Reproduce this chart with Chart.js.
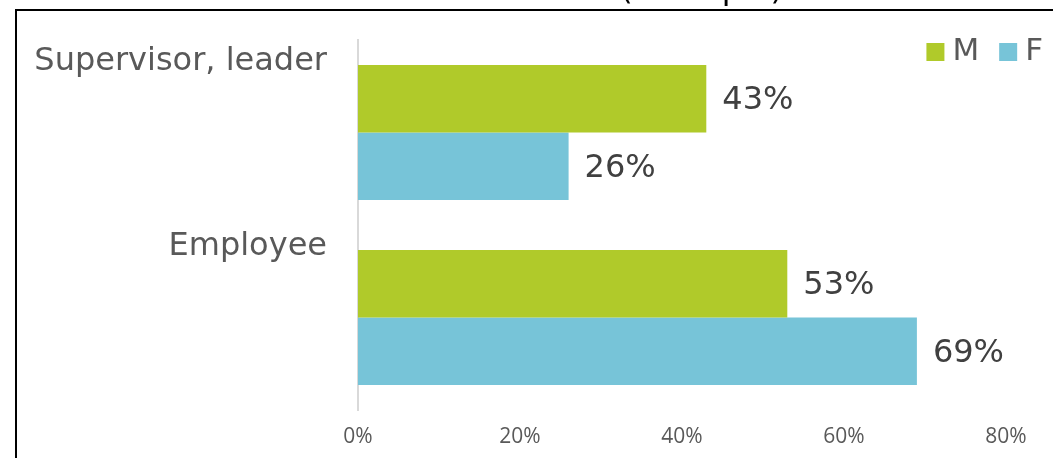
<!DOCTYPE html>
<html>
<head>
<meta charset="utf-8">
<script src="https://cdn.jsdelivr.net/npm/chart.js@4.4.1/dist/chart.umd.min.js"></script>
<style>
  html, body { margin: 0; padding: 0; background: #ffffff; }
  #wrap { position: relative; width: 1053px; height: 458px; }
</style>
</head>
<body>
<div id="wrap"><canvas id="positionChart" width="1053" height="458"></canvas></div>
<script>
const categories = ["Supervisor, leader", "Employee"];
const seriesNames = ["M", "F"];
const maleValues = [43, 53];
const femaleValues = [26, 69];
const tickValues = [0, 20, 40, 60, 80];
const chartTitle = "Position (example)";

const colors = { M: '#b0ca2a', F: '#77c4d8' };
const bigFont = "'DejaVu Sans', Verdana, sans-serif";

// frame + clipped title above it
const framePlugin = {
    id: 'frame',
    beforeDraw(chart) {
        const ctx = chart.ctx;
        ctx.save();
        ctx.fillStyle = '#000000';
        ctx.fillRect(15, 9, 2, chart.height);
        ctx.fillRect(15, 9, chart.width, 2);
        ctx.font = "32px " + bigFont;
        ctx.textAlign = 'right';
        ctx.textBaseline = 'alphabetic';
        ctx.fillText(chartTitle, 783, -1);
        ctx.restore();
    }
};

// percent labels at the end of each bar
const valueLabels = {
    id: 'valueLabels',
    afterDatasetsDraw(chart) {
        const ctx = chart.ctx;
        ctx.save();
        ctx.font = "32px " + bigFont;
        ctx.fillStyle = '#404040';
        ctx.textAlign = 'left';
        ctx.textBaseline = 'middle';
        chart.data.datasets.forEach((ds, i) => {
            chart.getDatasetMeta(i).data.forEach((bar, j) => {
                ctx.fillText(ds.data[j] + '%', bar.x + 16, bar.y + 2);
            });
        });
        ctx.restore();
    }
};

// legend in the top right corner
const cornerLegend = {
    id: 'cornerLegend',
    afterDraw(chart) {
        const ctx = chart.ctx;
        ctx.save();
        ctx.font = "31px " + bigFont;
        ctx.textBaseline = 'middle';
        ctx.textAlign = 'left';
        let x = 1043;
        const items = chart.data.datasets.slice().reverse();
        items.forEach(ds => {
            const w = ctx.measureText(ds.label).width;
            x -= w;
            ctx.fillStyle = '#595959';
            ctx.fillText(ds.label, x, 52);
            x -= 8 + 18;
            ctx.fillStyle = ds.backgroundColor;
            ctx.fillRect(x, 43, 18, 18);
            x -= 20;
        });
        ctx.restore();
    }
};

const ctx = document.getElementById("positionChart").getContext("2d");

new Chart(ctx, {
    type: 'bar',
    data: {
        labels: categories,
        datasets: [
            { label: seriesNames[0], data: maleValues, backgroundColor: colors.M },
            { label: seriesNames[1], data: femaleValues, backgroundColor: colors.F }
        ]
    },
    options: {
        indexAxis: 'y',
        responsive: false,
        animation: false,
        layout: { padding: { top: 40, right: 47, left: 0, bottom: 0 } },
        datasets: {
            bar: { categoryPercentage: 0.73, barPercentage: 1.0 }
        },
        plugins: {
            legend: { display: false },
            title: { display: false },
            tooltip: { enabled: false }
        },
        scales: {
            x: {
                min: 0,
                max: 80,
                afterBuildTicks(scale) {
                    scale.ticks = tickValues.map(v => ({ value: v }));
                },
                afterFit(scale) {
                    scale.height = 48;
                    scale.paddingLeft = 0;
                    scale.paddingRight = 0;
                },
                grid: { display: false, drawTicks: false },
                border: { display: false },
                ticks: {
                    padding: 14,
                    color: '#595959',
                    font: { family: "'Open Sans', sans-serif", size: 21 },
                    callback: v => v + '%'
                }
            },
            y: {
                afterFit(scale) {
                    scale.width = 358;
                    scale.paddingTop = 0;
                    scale.paddingBottom = 0;
                },
                grid: { display: false, drawTicks: false },
                border: { display: true, color: '#d9d9d9', width: 2 },
                ticks: {
                    padding: 31,
                    labelOffset: -71,
                    color: '#595959',
                    font: { family: bigFont, size: 32 }
                }
            }
        }
    },
    plugins: [framePlugin, valueLabels, cornerLegend]
});
</script>
</body>
</html>
